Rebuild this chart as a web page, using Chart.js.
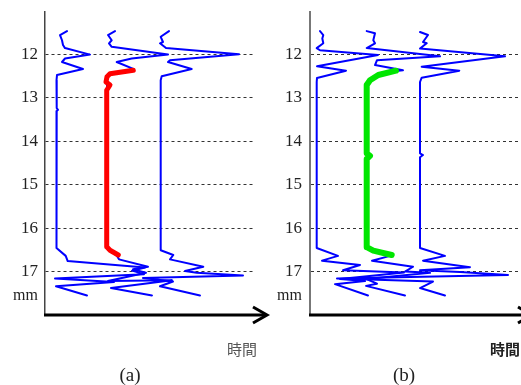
<!DOCTYPE html>
<html>
<head>
<meta charset="utf-8">
<script src="https://cdn.jsdelivr.net/npm/chart.js@4"></script>
<style>
  html, body { margin: 0; padding: 0; background: #fff; }
  #wrap { position: relative; width: 521px; height: 385px; overflow: hidden; }
  #chartA { position: absolute; left: 0; top: 0; }
  #chartB { position: absolute; left: 260px; top: 0; }
</style>
</head>
<body>
<div id="wrap">
  <canvas id="chartA" width="280" height="385"></canvas>
  <canvas id="chartB" width="261" height="385"></canvas>
</div>
<script>
// tick labels (mm)
var mmTicks = [12, 13, 14, 15, 16, 17];

// panel (a): [time, mm]
var traceA1 = [[22,11.47],[15,11.56],[17,11.68],[18,11.79],[20,11.86],[45,12.01],[20,12.10],[17,12.18],[38,12.34],[12,12.48],[11.5,12.60],
  [11.7,13.24],[13,13.28],[11.7,13.31],[11.5,16.46],
  [20.7,16.64],[22.7,16.76],[100,16.91],[87,16.98],[99,17.06],[10,17.16],[69,17.24],[11,17.34],[42,17.55]];
var traceA2 = [[70,11.47],[63,11.56],[66.7,11.68],[64,11.75],[66.7,11.83],[123,12.01],[86.7,12.10],[71.7,12.18],[88.3,12.34],[63,12.48],[62,12.60],
  [62,16.44],[72,16.64],[74,16.72],[103,16.89],[88,16.95],[101,17.03],[63,17.22],[127,17.20],[66,17.38],[107,17.55]];
var traceA3 = [[124,11.47],[115.7,11.60],[118,11.72],[115,11.75],[121,11.86],[194,12.00],[125,12.14],[123,12.18],[146.7,12.34],[116.7,12.51],[115.7,12.60],
  [115.7,16.51],[128.3,16.62],[125,16.72],[158.3,16.89],[140,16.99],[151.7,17.03],[198,17.09],[98,17.15],[128,17.23],[115,17.34],[155,17.55]];
var edgeA = [[88.3,12.37],[65,12.45],[62,12.52],[61,12.64],[65,12.71],[61.7,12.83],[61.7,16.43],[65,16.51],[73.3,16.62]];

// panel (b): [time, mm]
var traceB1 = [[10,11.47],[13.3,11.56],[12.3,11.64],[13.3,11.75],[6.7,11.86],[10,11.91],[68,12.02],[7,12.28],[36,12.38],[7,12.55],[6.7,12.64],
  [6.7,16.46],[28,16.64],[12,16.75],[50,16.85],[33,16.97],[94,17.02],[30,17.17],[55,17.22],[25,17.29],[58,17.55]];
var traceB2 = [[56.7,11.47],[65,11.52],[63.3,11.68],[65,11.75],[56.7,11.86],[130,12.05],[67,12.14],[65,12.25],[93,12.37],[86,12.39],[68,12.48],[60,12.60],[57,12.71],
  [57,16.44],[61,16.53],[80,16.64],[62,16.75],[103,16.89],[95,17.00],[120,17.03],[56,17.17],[67,17.28],[56,17.33],[95,17.55]];
var traceB3 = [[110,11.49],[118,11.56],[113,11.72],[116.7,11.75],[110,11.87],[195,12.05],[111.7,12.29],[149.3,12.38],[111.7,12.54],[110,12.64],
  [110,14.28],[113,14.32],[110,14.37],
  [110,16.46],[135,16.64],[113,16.75],[160,16.90],[110,16.97],[150,17.01],[198,17.08],[27,17.16],[123,17.23],[110,17.38],[135,17.55]];
var edgeB = [[86,12.38],[68.3,12.48],[60,12.60],[56.7,12.71],[56.7,14.28],[60,14.34],[56.7,14.41],[56.7,16.44],[63.3,16.52],[81.7,16.62]];

function line(points, color, width) {
  return {
    data: points.map(function (p) { return {x: p[0], y: p[1]}; }),
    borderColor: color,
    borderWidth: width,
    showLine: true,
    pointRadius: 0,
    tension: 0,
    borderJoinStyle: 'round',
    borderCapStyle: 'round'
  };
}

var decor = {
  id: 'decor',
  afterDraw: function (chart, args, o) {
    var ctx = chart.ctx, a = chart.chartArea, y = chart.scales.y;
    ctx.save();
    // time axis with arrow
    ctx.strokeStyle = '#000';
    ctx.lineWidth = 3;
    ctx.beginPath();
    ctx.moveTo(a.left - 1, a.bottom);
    ctx.lineTo(o.arrowTip - 2, a.bottom);
    ctx.stroke();
    ctx.beginPath();
    ctx.moveTo(o.arrowTip - 14, a.bottom - 8);
    ctx.lineTo(o.arrowTip, a.bottom);
    ctx.lineTo(o.arrowTip - 14, a.bottom + 8);
    ctx.stroke();
    // unit
    ctx.fillStyle = '#222';
    ctx.font = '16px "Liberation Serif"';
    ctx.textAlign = 'right';
    ctx.textBaseline = 'middle';
    ctx.fillText('mm', a.left - o.gap, y.getPixelForValue(17.56));
    // time label
    ctx.font = o.timeFont;
    ctx.fillStyle = o.timeColor;
    ctx.textAlign = 'left';
    ctx.fillText('時間', o.timeX, 349);
    // caption
    ctx.font = '19px "Liberation Serif"';
    ctx.fillStyle = '#222';
    ctx.textAlign = 'center';
    ctx.fillText(o.caption, o.captionX, 376);
    ctx.restore();
  }
};

function makeChart(id, datasets, cfg) {
  return new Chart(document.getElementById(id), {
    type: 'scatter',
    data: { datasets: datasets },
    options: {
      responsive: false,
      animation: false,
      layout: { padding: { top: 12, right: cfg.padRight, bottom: 70, left: 0 } },
      plugins: {
        legend: { display: false },
        tooltip: { enabled: false },
        decor: cfg.decor
      },
      scales: {
        x: { type: 'linear', display: false, min: 0, max: cfg.xMax },
        y: {
          reverse: true,
          min: 11.03,
          max: 18,
          afterFit: function (s) { s.width = cfg.axisW; s.paddingTop = 0; s.paddingBottom = 0; },
          afterBuildTicks: function (s) { s.ticks = mmTicks.map(function (v) { return {value: v}; }); },
          ticks: { color: '#222', padding: cfg.decor.gap, font: { family: 'Liberation Serif', size: 17 } },
          grid: { color: '#333', lineWidth: 1, drawTicks: false },
          border: { display: true, color: cfg.axisColor, width: cfg.axisLineW, dash: [3, 3] }
        }
      }
    },
    plugins: [decor]
  });
}

makeChart('chartA', [
  line(edgeA, '#ff0000', 5),
  line(traceA1, '#0000ff', 2),
  line(traceA2, '#0000ff', 2),
  line(traceA3, '#0000ff', 2)
], {
  padRight: 26, xMax: 209, axisW: 45, axisColor: '#444', axisLineW: 1.5,
  decor: { arrowTip: 267, gap: 7, timeX: 227, timeFont: '15px "Noto Sans CJK JP"', timeColor: '#555', caption: '(a)', captionX: 130 }
});

makeChart('chartB', [
  line(edgeB, '#00e600', 6),
  line(traceB1, '#0000ff', 2),
  line(traceB2, '#0000ff', 2),
  line(traceB3, '#0000ff', 2)
], {
  padRight: 3, xMax: 208, axisW: 50, axisColor: '#777', axisLineW: 2,
  decor: { arrowTip: 272, gap: 8, timeX: 230, timeFont: 'bold 15px "Noto Sans CJK JP"', timeColor: '#222', caption: '(b)', captionX: 144 }
});
</script>
</body>
</html>
